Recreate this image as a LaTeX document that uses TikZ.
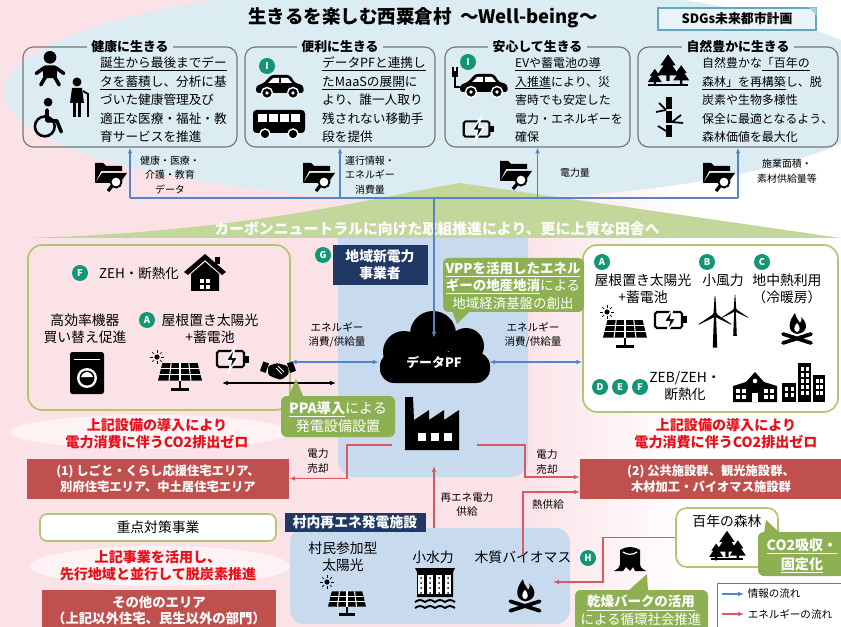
\documentclass[tikz,border=0pt]{standalone}
\usepackage{fontspec}
\setmainfont{Noto Sans CJK JP}
\usepackage{xcolor}
\definecolor{PinkBg}{RGB}{251,226,231}
\definecolor{SkyBg}{RGB}{219,236,242}
\definecolor{CardLine}{RGB}{118,118,118}
\definecolor{BadgeTeal}{RGB}{20,150,118}
\definecolor{NavyBox}{RGB}{32,56,100}
\definecolor{LeafGreen}{RGB}{141,177,82}
\definecolor{LeafLine}{RGB}{176,198,112}
\definecolor{BannerGreen}{RGB}{196,215,155}
\definecolor{BrickRed}{RGB}{192,80,77}
\definecolor{AlertRed}{RGB}{232,16,24}
\definecolor{FlowRed}{RGB}{218,88,98}
\definecolor{FlowBlue}{RGB}{84,132,204}
\definecolor{PlantBlue}{RGB}{199,218,238}
\definecolor{SdgLine}{RGB}{96,168,190}
\definecolor{SdgFill}{RGB}{232,244,248}
\usepackage{tikz}
\usetikzlibrary{arrows.meta, positioning, calc}

\tikzset{
  % sizes are counted on the 0.03cm grid of the picture
  boxwh/.style 2 args={minimum width=#1*0.03cm, minimum height=#2*0.03cm},
  % Texts
  titletxt/.style={inner sep=0pt, font=\fontsize{15.8}{18}\selectfont\bfseries},
  cardtxt/.style={inner sep=0pt, anchor=west, align=left,
    font=\fontsize{10.8}{15.8}\selectfont},
  cardsmall/.style={cardtxt, font=\fontsize{10.2}{15.8}\selectfont},
  cardhead/.style={fill=SkyBg, inner xsep=4pt, inner ysep=1pt,
    font=\fontsize{11}{13}\selectfont\bfseries},
  lbl/.style={inner sep=0pt, align=center, font=\fontsize{8.5}{12.4}\selectfont},
  flowlbl/.style={inner sep=0pt, align=center, font=\fontsize{9}{12.4}\selectfont},
  midtxt/.style={inner sep=0pt, align=center, font=\fontsize{11.8}{14.5}\selectfont},
  bannertxt/.style={inner sep=0pt, text=white, font=\fontsize{12.7}{14}\selectfont\bfseries},
  redtxt/.style={inner sep=0pt, align=center, text=AlertRed,
    font=\fontsize{12}{14.5}\selectfont\bfseries},
  legtxt/.style={inner sep=0pt, anchor=west, font=\fontsize{9}{10}\selectfont},
  calltxt/.style={inner sep=0pt, align=center, text=white,
    font=\fontsize{11.5}{15}\selectfont},
  % Boxes
  card/.style={draw=CardLine, line width=1pt, rounded corners=9pt},
  greenbox/.style={draw=LeafLine, line width=1.4pt, rounded corners=12pt},
  navybox/.style={fill=NavyBox, text=white, inner sep=0pt, align=center,
    font=\fontsize{11.8}{14.5}\selectfont\bfseries},
  redbox/.style={fill=BrickRed, text=white, inner sep=0pt, align=center,
    font=\fontsize{10.5}{13.8}\selectfont\bfseries},
  badge/.style={circle, fill=BadgeTeal, text=white, inner sep=0pt,
    minimum size=16*0.03cm, font=\fontsize{8}{8}\selectfont\bfseries},
  callout/.style={fill=LeafGreen, rounded corners=5pt},
  % Arrows
  info/.style={-{Latex[length=5pt,width=4pt]}, FlowBlue, line width=1pt},
  infoboth/.style={{Latex[length=5pt,width=4pt]}-{Latex[length=5pt,width=4pt]},
    FlowBlue, line width=1pt},
  energy/.style={-{Latex[length=5pt,width=4pt]}, FlowRed, line width=1.2pt},
  ppa/.style={{Latex[length=5pt,width=4pt]}-{Latex[length=5pt,width=4pt]},
    black, line width=1pt},
}

% Icons (drawn around their centre, y grows downwards)
\tikzset{
  sun/.pic={
    \fill (0,0) circle (2.6);
    \foreach \a in {0,45,...,315} \draw[line width=0.6pt] (\a:4.2) -- (\a:6.8);
  },
  solar/.pic={
    \fill (-16,-9) -- (16,-9) -- (20,7) -- (-20,7) -- cycle;
    \foreach \t in {-0.5,0,0.5} \draw[white, line width=0.9pt] (16*\t,-9) -- (20*\t,7);
    \draw[white, line width=0.9pt] (-17.3,-3.7) -- (17.3,-3.7) (-18.7,1.7) -- (18.7,1.7);
    \fill (-1.3,7) rectangle (1.3,15);
    \fill (-8,14) rectangle (8,16.5);
  },
  battery/.pic={
    \draw[line width=1.8pt, rounded corners=1.5pt] (-15,-8) rectangle (12,8);
    \fill (13,-3.5) rectangle (16.5,3.5);
    \filldraw[draw=white, line width=1.2pt] (3,-12) -- (-6,1.5) -- (-0.5,1.5) -- (-3,12)
      -- (6,-1.5) -- (0.5,-1.5) -- cycle;
  },
  campfire/.pic={
    \fill (0,6) .. controls (-10,4) and (-9,-6) .. (-2,-15) .. controls (-1,-9) and (2,-8) .. (3,-5)
      .. controls (5,-7) and (5,-9) .. (4,-11) .. controls (12,-4) and (10,5) .. (0,6) -- cycle;
    \fill[white] (0,4) .. controls (-4,3) and (-3,-2) .. (0,-5) .. controls (3,-2) and (4,3) .. (0,4);
    \draw[line width=3.2pt, line cap=round] (-14,6) -- (14,15) (14,6) -- (-14,15);
  },
  tree/.pic={
    \fill (0,-14) -- (-7,-4) -- (-4,-4) -- (-10,5) -- (-1.5,5) -- (-1.5,10) -- (1.5,10)
      -- (1.5,5) -- (10,5) -- (4,-4) -- (7,-4) -- cycle;
  },
  forest/.pic={
    \pic[scale=1.1] at (0,-2) {tree};
    \pic[scale=0.7] at (-12,6) {tree};
    \pic[scale=0.8] at (12,4) {tree};
    \fill (-18,11) rectangle (18,13);
  },
  bamboo/.pic={
    \foreach \y in {-21,-7,7} \fill (-3,\y) rectangle (3,\y+12.5);
    \draw[line width=1.5pt] (-3,-8) -- (-10,-15) (-3,-8) -- (-13,-6) (3,4) -- (12,-3)
      (3,4) -- (14,5) (-3,13) -- (-11,8);
  },
  folder/.pic={
    \fill (-15,-11) -- (-7,-11) -- (-4,-8) -- (12,-8) -- (12,-3) -- (-9,-3) -- (-15,9) -- cycle;
    \fill (-8,-1) -- (17,-1) -- (10,9) -- (-15,9) -- cycle;
    \filldraw[fill=white, line width=1.6pt] (6,8) circle (5.5);
    \draw[line width=2.8pt] (2,12) -- (-2,17);
  },
  car/.pic={
    \fill[rounded corners=2.5pt] (-24,5) -- (-24,-2) -- (-16,-5) -- (-9,-13) -- (10,-13)
      -- (15,-5) -- (23,-3) -- (24,5) -- cycle;
    \fill[white] (-7,-10) -- (-1,-10) -- (-1,-5) -- (-12,-5) -- cycle;
    \fill[white] (1,-10) -- (8,-10) -- (12,-5) -- (1,-5) -- cycle;
    \filldraw[draw=white, line width=1.2pt] (-13,5) circle (5.5) (13,5) circle (5.5);
    \fill[white] (-13,5) circle (1.8) (13,5) circle (1.8);
  },
  evcar/.pic={
    \pic {car};
    \draw[line width=1.5pt] (-24,0) -- (-29,0) -- (-29,-10);
    \fill (-32,-16) rectangle (-26,-10);
    \draw[line width=1pt] (-31,-16) -- (-31,-20) (-27,-16) -- (-27,-20);
  },
  bus/.pic={
    \fill[rounded corners=3pt] (-26,-14) rectangle (26,9);
    \foreach \x in {-21,-10,1,12} \fill[white] (\x,-10) rectangle ++(9,8);
    \filldraw[draw=white, line width=1.2pt] (-14,10) circle (5) (14,10) circle (5);
  },
  baby/.pic={
    \fill (0,-11) circle (5.5);
    \fill[rounded corners=2pt] (-6,-4) rectangle (6,7);
    \draw[line width=3pt, line cap=round] (-5,-2) -- (-12,3) (5,-2) -- (12,3)
      (-4,6) -- (-8,13) (4,6) -- (8,13);
  },
  elder/.pic={
    \fill (0,-15) circle (4.5);
    \fill (-5,-9) -- (5,-9) -- (7,6) -- (-7,6) -- cycle;
    \draw[line width=3pt] (-2.5,5) -- (-2.5,20) (2.5,5) -- (2.5,20);
    \draw[line width=1.6pt] (6,-6) -- (11,-3) -- (11,20);
  },
  wheelchair/.pic={
    \fill (1,-18) circle (4);
    \draw[line width=3pt, line cap=round, line join=round] (0,-11) -- (0,-1) -- (9,-1) -- (13,9);
    \draw[line width=2.2pt] (-2,4) circle (9);
  },
  house/.pic={
    \fill (0,-19) -- (-21,-1) -- (-17,2) -- (0,-13) -- (17,2) -- (21,-1) -- cycle;
    \fill (10,-16) rectangle (15,-9);
    \fill (-14,1) -- (0,-11) -- (14,1) -- (14,18) -- (-14,18) -- cycle;
    \fill[white] (-5,6) rectangle (5,16);
    \draw[line width=1pt] (0,6) -- (0,16) (-5,11) -- (5,11);
  },
  washer/.pic={
    \fill[rounded corners=1.5pt] (-17,-21) rectangle (17,21);
    \fill[white] (-13,-14) rectangle (13,-13);
    \fill[white] (0,5) circle (10);
    \fill (0,5) circle (7.5);
    \fill[white] (-6,4) .. controls (-3,-3) and (3,-3) .. (6,4) -- cycle;
  },
  handshake/.pic={
    \fill[rotate=-20] (-17,-4) rectangle (-11,6);
    \fill[rotate=20] (11,-4) rectangle (17,6);
    \fill[rounded corners=2pt] (-10,-5) -- (-1,-8) -- (10,-5) -- (11,3) -- (3,9) -- (-3,7)
      -- (-10,4) -- cycle;
    \draw[white, line width=0.7pt] (-2,-3) -- (4,3) (0,-5) -- (6,1);
  },
  factory/.pic={
    \fill (-29,26) -- (-29,-27) -- (-21,-27) -- (-20,-4) -- (-5,-14) -- (-5,-4) -- (10,-14)
      -- (10,-4) -- (25,-14) -- (25,26) -- cycle;
    \foreach \x in {-16,-3,10} \fill[white] (\x,9) rectangle ++(8,8);
  },
  turbine/.pic={
    \fill (-0.8,0) -- (0.8,0) -- (1.8,26) -- (-1.8,26) -- cycle;
    \foreach \a in {90,210,330} \fill[rotate=\a] (0,-1.3) -- (15,-0.3) -- (15,0.3) -- (0,1.3) -- cycle;
    \fill (0,0) circle (2);
  },
  school/.pic={
    \fill (-22,0) -- (-9,-4) -- (0,-14) -- (9,-4) -- (22,0) -- (22,16) -- (-22,16) -- cycle;
    \fill[white] (0,-5) circle (2.3);
    \foreach \x in {-19,-13,9,15} \foreach \y in {3,9} \fill[white] (\x,\y) rectangle ++(4,3.5);
    \fill[white] (-3,7) rectangle (3,16);
  },
  office/.pic={
    \fill (-21,-2) rectangle (-7,17);
    \fill (-5,-22) rectangle (8,17);
    \fill (10,-10) rectangle (22,17);
    \foreach \y in {2,8} \foreach \x in {-18,-12} \fill[white] (\x,\y) rectangle ++(3,3.5);
    \foreach \y in {-18,-12,-6,0,6} \foreach \x in {-2,3} \fill[white] (\x,\y) rectangle ++(3,3.5);
    \foreach \y in {-6,0,6} \foreach \x in {13,17} \fill[white] (\x,\y) rectangle ++(2.5,3.5);
  },
  dam/.pic={
    \fill (-20,-22) -- (20,-22) -- (18,-18) -- (18,7) -- (-18,7) -- (-18,-18) -- cycle;
    \foreach \x in {-14,-5,4,13} {
      \fill[white] (\x-3,-15) rectangle (\x+3,4);
      \foreach \y in {-12,-7,-2,3} \fill (\x,\y) circle (1);
    }
    \foreach \y in {12,18} \draw[line width=1.6pt] (-20,\y) sin (-15,\y-2) cos (-10,\y)
      sin (-5,\y-2) cos (0,\y) sin (5,\y-2) cos (10,\y) sin (15,\y-2) cos (20,\y);
  },
  stump/.pic={
    \fill (-10,-10) .. controls (-4,-14) and (4,-14) .. (10,-10) -- (10,4) .. controls (11,8) .. (16,11)
      -- (5,11) -- (3,7) -- (0,11) -- (-4,7) -- (-7,11) -- (-16,11) .. controls (-11,8) .. (-10,4) -- cycle;
    \draw[white, line width=1pt] (-7,-8) .. controls (-3,-5) and (3,-5) .. (7,-8);
  },
}

\begin{document}
\begin{tikzpicture}[x=0.03cm, y=-0.03cm]
  \useasboundingbox (0,0) rectangle (841,627);
  \clip (0,0) rectangle (841,627);

  %% ---- BACKDROP ----
  \fill[PinkBg] (0,0) rectangle (841,627);
  \shade[left color=PinkBg, right color=white] (520,0) rectangle (690,627);
  \fill[white] (689,0) rectangle (841,627);
  \fill[SkyBg] (450,92) ellipse [x radius=445, y radius=108];
  \fill[white, opacity=0.6] (150,432) ellipse [x radius=140, y radius=17];
  \fill[white, opacity=0.6] (160,566) ellipse [x radius=130, y radius=20];
  \fill[PlantBlue, rounded corners=14pt] (338,225) rectangle (528,477);
  \fill[BannerGreen] (25,238) .. controls (250,232) and (380,196) .. (460,183) -- (841,238) -- cycle;
  \node[bannertxt] (motto) at (437,229) {カーボンニュートラルに向けた取組推進により、更に上質な田舎へ};

  %% ---- WELL-BEING TIER ----
  \node[titletxt] (title) at (423,18) {生きるを楽しむ西粟倉村\ \ ～Well-being～};
  \node[draw=SdgLine, fill=SdgFill, line width=1.2pt, boxwh={158}{22}, inner sep=0pt,
        font=\fontsize{11}{12}\selectfont\bfseries] (sdgs) at (737,19) {SDGs未来都市計画};
  \fill[SdgLine!55] (sdgs.north east) -- ++(-8,0) -- ++(8,8) -- cycle;

  \node[card, boxwh={214}{100}] (kenko)  at (130,97)   {};
  \node[card, boxwh={190}{100}] (benri)  at (340,97)   {};
  \node[card, boxwh={185}{100}] (anshin) at (537.5,97) {};
  \node[card, boxwh={200}{100}] (shizen) at (738,97)   {};
  \node[cardhead] (kenkoh)  at (kenko.north)  {健康に生きる};
  \node[cardhead] (benrih)  at (benri.north)  {便利に生きる};
  \node[cardhead] (anshinh) at (anshin.north) {安心して生きる};
  \node[cardhead] (shizenh) at (shizen.north) {自然豊かに生きる};

  \node[cardtxt] (kenkot) at (100,100)
    {\underline{誕生から最後までデー}\\\underline{タを蓄積}し、分析に基\\づいた健康管理及び\\適正な医療・福祉・教\\育サービスを推進};
  \node[cardtxt] (benrit) at (322,100)
    {\underline{データPFと連携し}\\\underline{たMaaSの展開}に\\より、誰一人取り\\残されない移動手\\段を提供};
  \node[cardsmall] (anshint) at (515,100)
    {\underline{EVや蓄電池の導}\\\underline{入推進}により、災\\害時でも安定した\\電力・エネルギーを\\確保};
  \node[cardsmall] (shizent) at (702,100)
    {自然豊かな\underline{「百年の}\\\underline{森林」を再構築}し、脱\\炭素や生物多様性\\保全に最適となるよう、\\森林価値を最大化};

  \pic[scale=1.15] at (50,70) {baby};
  \pic at (77,97) {elder};
  \pic[scale=1.1] at (47,122) {wheelchair};
  \node[badge] (bI1) at (267,66) {I};
  \pic at (280,88) {car};
  \pic at (279,124) {bus};
  \node[badge] (bI2) at (468,62) {I};
  \pic at (484,87) {evcar};
  \pic[scale=0.95] at (478,129) {battery};
  \pic[scale=1.1] at (668,72) {forest};
  \pic at (669,118) {bamboo};

  %% Data collected towards the platform
  \coordinate (bus) at (0,198);
  \draw[FlowBlue, line width=1pt] (kenko.south |- bus) -- (shizen.south |- bus);
  \foreach \c in {kenko, benri, anshin, shizen}
    \draw[info] (\c.south |- bus) -- (\c.south);
  \pic at (110,174) {folder};
  \pic at (318,174) {folder};
  \pic at (515,172) {folder};
  \pic at (718,174) {folder};
  \node[lbl] (dataK) at (170,175) {健康・医療・\\介護・教育\\データ};
  \node[lbl] (dataB) at (370,175) {運行情報・\\エネルギー\\消費量};
  \node[lbl] (dataA) at (575,173) {電力量};
  \node[lbl] (dataS) at (787,171) {施業面積・\\素材供給量等};

  %% ---- HOUSING / PUBLIC AREAS ----
  \node[greenbox, boxwh={262}{165}] (homes) at (159,327.5) {};
  \node[greenbox, fill=white, boxwh={255}{167}] (publics) at (710.5,328.5) {};

  \node[badge] (bF1) at (80,273) {F};
  \node[midtxt, font=\fontsize{11.5}{14}\selectfont] (zeh) at (139,273) {ZEH・断熱化};
  \pic at (205,273) {house};
  \node[midtxt] (koukou) at (85,328.5) {高効率機器\\買い替え促進};
  \node[badge] (bA1) at (147,320) {A};
  \node[midtxt] (roofL) at (210,328.5) {屋根置き太陽光\\+蓄電池};
  \pic at (87,373) {washer};
  \pic at (157,357) {sun};
  \pic[scale=1.1] at (180,373) {solar};
  \pic at (232,359) {battery};
  \pic at (278,371) {handshake};

  \node[badge] (bA2) at (602,262) {A};
  \node[badge] (bB)  at (707,262) {B};
  \node[badge] (bC)  at (762,262) {C};
  \node[midtxt] (roofR) at (643,288.5) {屋根置き太陽光\\+蓄電池};
  \node[midtxt] (wind)  at (723,280) {小風力};
  \node[midtxt] (geo)   at (787,288.5) {地中熱利用\\（冷暖房）};
  \pic at (607,312) {sun};
  \pic[scale=1.1] at (625,330) {solar};
  \pic at (670,320) {battery};
  \pic[scale=1.25] at (715,315) {turbine};
  \pic at (735,310) {turbine};
  \pic at (797,328) {campfire};
  \node[badge] (bD)  at (600,387) {D};
  \node[badge] (bE)  at (620,387) {E};
  \node[badge] (bF2) at (640,387) {F};
  \node[midtxt] (zeb) at (685,386.5) {ZEB/ZEH・\\断熱化};
  \pic at (755,386) {school};
  \pic at (803,385) {office};

  %% ---- NEW POWER COMPANY / DATA PF ----
  \node[navybox, boxwh={95}{40}] (newpower) at (380,265) {地域新電力\\事業者};
  \node[badge] (bG) at (323,255) {G};
  \fill[rounded corners=12pt] (380,352) rectangle (490,383);
  \fill (404,352) circle (21) (433,334) circle (23) (466,346) circle (18);
  \node[boxwh={110}{48}, text=white, font=\fontsize{11}{12}\selectfont\bfseries] (pf) at (434,362) {データPF};
  \draw[info] (pf.north |- bus) -- (pf.north);
  \draw[infoboth] (homes.east |- pf.west) -- (pf.west);
  \draw[infoboth] (pf.east) -- (pf.east -| publics.west);
  \node[flowlbl] (useL) at (337,335) {エネルギー\\消費/供給量};
  \node[flowlbl] (useR) at (533,335) {エネルギー\\消費/供給量};

  \fill[callout] (443,258) rectangle (584,312);
  \fill[LeafGreen] (452,311) -- (470,311) -- (457,324) -- cycle;
  \node[calltxt] (vpp) at (513,285.5)
    {\textbf{\underline{VPPを活用したエネル}}\\\textbf{\underline{ギーの地産地消}}による\\地域経済基盤の創出};

  \coordinate (ppaL) at (222,383);
  \coordinate (ppaR) at (336,383);
  \draw[ppa] (ppaL) -- (ppaR);
  \fill[callout] (281,396) rectangle (395,437);
  \fill[LeafGreen] (288,398) -- (304,398) -- (296,379) -- cycle;
  \node[calltxt, font=\fontsize{12}{16}\selectfont] (ppatxt) at (338,417)
    {\textbf{\underline{PPA導入}}による\\発電設備設置};

  \pic at (434,424) {factory};
  \node[boxwh={58}{53}] (fac) at (434,424) {};

  %% ---- ZERO-CARBON TARGETS ----
  \node[redtxt] (zeroL) at (157,433.5) {上記設備の導入により\\電力消費に伴うCO2排出ゼロ};
  \node[redtxt] (zeroR) at (726,433.5) {上記設備の導入により\\電力消費に伴うCO2排出ゼロ};
  \node[redbox, boxwh={262}{40}] (area1) at (158,478.5)
    {(1) しごと・くらし応援住宅エリア、\\別府住宅エリア、中土居住宅エリア};
  \node[redbox, boxwh={262}{40}] (area2) at (711,478.5)
    {(2) 公共施設群、観光施設群、\\木材加工・バイオマス施設群};
  \node[draw=LeafLine, fill=white, line width=1.4pt, rounded corners=6pt, boxwh={236}{27},
        font=\fontsize{11.8}{13}\selectfont] (focus) at (158,527.5) {重点対策事業};
  \node[redtxt] (spread) at (158,566) {上記事業を活用し、\\先行地域と並行して脱炭素推進};
  \node[redbox, boxwh={234}{41}, font=\fontsize{11.4}{14.5}\selectfont\bfseries] (others)
    at (159,610.5) {その他のエリア\\（上記以外住宅、民生以外の部門）};

  %% ---- VILLAGE RENEWABLE PLANTS ----
  \node[fill=PlantBlue, rounded corners=12pt, boxwh={280}{96}] (plants) at (430,576) {};
  \node[navybox, boxwh={141}{19}] (plantlbl) at (355,522) {村内再エネ発電施設};
  \node[midtxt] (pv)    at (343,556.5) {村民参加型\\太陽光};
  \node[midtxt] (hydro) at (433,557) {小水力};
  \node[midtxt] (bio)   at (523,557) {木質バイオマス};
  \pic at (327,582) {sun};
  \pic[scale=0.95] at (347,600) {solar};
  \pic at (435,590) {dam};
  \pic[scale=1.05] at (525,595) {campfire};

  %% Energy flows
  \coordinate (facL) at (392,445);
  \coordinate (facR) at (477,445);
  \coordinate (facB) at (434,466);
  \coordinate (sell2) at (525,477);
  \coordinate (heat) at (580,492);
  \coordinate (bioin) at (553,582);
  \draw[energy] (facL) -- (347,445) |- (area1.east);
  \draw[energy] (facR) -- (525,445) -- (sell2) -- (area2.west |- sell2);
  \draw[energy] ([yshift=-4pt]bio.north) |- (heat);
  \draw[energy] (plants.north -| facB) -- (facB);
  \node[flowlbl] (sellL) at (318,461) {電力\\売却};
  \node[flowlbl] (sellR) at (547,462) {電力\\売却};
  \node[flowlbl] (heatlbl) at (548,505) {熱供給};
  \node[flowlbl] (relbl) at (467,504.5) {再エネ電力\\供給};

  %% ---- FOREST ----
  \node[draw=LeafLine, fill=white, line width=1.4pt, rounded corners=9pt, boxwh={102}{59}]
    (forest) at (727,537.5) {};
  \node[midtxt] (forestlbl) at (727,521) {百年の森林};
  \pic[scale=0.9] at (727,548) {forest};
  \draw[energy] (forest.west) -- (603,537.5) |- (bioin);
  \node[badge] (bH) at (588,558) {H};
  \pic at (630,560) {stump};

  \fill[callout] (758,532) rectangle (846,576);
  \fill[LeafGreen] (764,533) -- (780,533) -- (766,520) -- cycle;
  \node[calltxt, font=\fontsize{12}{16}\selectfont\bfseries] (co2) at (802,556)
    {\underline{CO2吸収・}\\\underline{固定化}};
  \fill[callout] (575,590) rectangle (708,635);
  \fill[LeafGreen] (628,591) -- (648,591) -- (647,574) -- cycle;
  \node[calltxt] (bark) at (641,610.5) {\textbf{\underline{乾燥バークの活用}}\\による循環社会推進};

  %% Legend
  \node[draw=CardLine, fill=white, boxwh={126}{44}] (legend) at (780,605) {};
  \coordinate (lgA) at (722,594);
  \coordinate (lgB) at (744,594);
  \coordinate (lgC) at (722,614);
  \coordinate (lgD) at (744,614);
  \draw[info] (lgA) -- (lgB);
  \draw[energy] (lgC) -- (lgD);
  \node[legtxt, right=3pt of lgB] (leginfo) {情報の流れ};
  \node[legtxt, right=3pt of lgD] (legenergy) {エネルギーの流れ};
\end{tikzpicture}
\end{document}
